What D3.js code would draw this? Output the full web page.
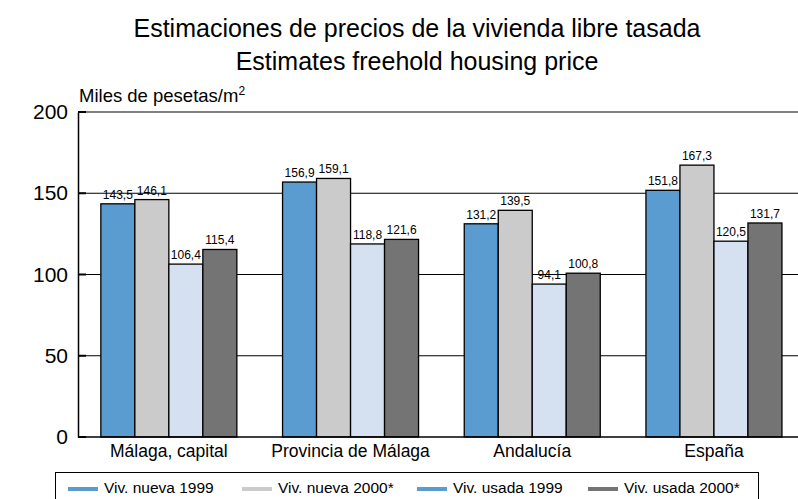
<!DOCTYPE html>
<html>
<head>
<meta charset="utf-8">
<script src="https://cdn.jsdelivr.net/npm/d3@7"></script>
<style>
  body { margin: 0; background: #fff; }
  text { font-family: "Liberation Sans", Arial, sans-serif; fill: #000; }
</style>
</head>
<body>
<div id="chart"></div>
<script>
const WIDTH = 798, HEIGHT = 499;
const MARGIN = { TOP: 112, LEFT: 78, BOTTOM: 62 };

const categories = ["Málaga, capital", "Provincia de Málaga", "Andalucía", "España"];
const series = ["Viv. nueva 1999", "Viv. nueva 2000*", "Viv. usada 1999", "Viv. usada 2000*"];
const nueva1999 = [143.5, 156.9, 131.2, 151.8];
const nueva2000 = [146.1, 159.1, 139.5, 167.3];
const usada1999 = [106.4, 118.8, 94.1, 120.5];
const usada2000 = [115.4, 121.6, 100.8, 131.7];
const yTicks = [0, 50, 100, 150, 200];

const barColors = ["#5a9bd0", "#cbcbcb", "#d5e0f0", "#747474"];
// the legend reuses the blue for "Viv. usada 1999", as in the original
const legendColors = ["#5a9bd0", "#cbcbcb", "#5a9bd0", "#747474"];

const values = [nueva1999, nueva2000, usada1999, usada2000];
const data = categories.map((c, i) => ({
    category: c,
    vals: series.map((s, j) => ({ key: s, idx: j, value: values[j][i] }))
}));

const svg = d3.select("#chart").append("svg")
    .attr("width", WIDTH)
    .attr("height", HEIGHT);

const y0 = 437, y1 = 112;

const xScale = d3.scaleBand()
    .domain(categories)
    .range([MARGIN.LEFT, MARGIN.LEFT + 4 * 181.7])
    .padding(0);

const inner = d3.scaleBand()
    .domain(series)
    .range([0, 136])
    .padding(0);

const yScale = d3.scaleLinear()
    .domain([0, 200])
    .range([y0, y1]);

// Title
svg.append("text")
    .attr("x", 417).attr("y", 37)
    .attr("text-anchor", "middle")
    .style("font-size", "25px")
    .text("Estimaciones de precios de la vivienda libre tasada");
svg.append("text")
    .attr("x", 417).attr("y", 70)
    .attr("text-anchor", "middle")
    .style("font-size", "25px")
    .text("Estimates freehold housing price");

// Units label
const unit = svg.append("text")
    .attr("x", 79).attr("y", 102)
    .style("font-size", "18.5px")
    .text("Miles de pesetas/m");
unit.append("tspan")
    .attr("dy", -7)
    .style("font-size", "12px")
    .text("2");

// Gridlines
svg.append("g")
    .selectAll("line")
    .data(yTicks.filter(d => d > 0))
    .join("line")
    .attr("x1", MARGIN.LEFT).attr("x2", WIDTH)
    .attr("y1", d => yScale(d)).attr("y2", d => yScale(d))
    .attr("stroke", "#000")
    .attr("stroke-width", 1.2);

// Y axis
const yAxis = svg.append("g")
    .attr("transform", `translate(${MARGIN.LEFT},0)`)
    .call(d3.axisLeft(yScale).tickValues(yTicks).tickSize(0).tickPadding(10));
yAxis.select(".domain").attr("stroke", "#000").attr("stroke-width", 1.5);
yAxis.selectAll("text")
    .style("font-size", "21px")
    .style("font-family", "'Liberation Sans', Arial, sans-serif");

// inner short ticks
svg.append("g")
    .selectAll("line")
    .data(yTicks)
    .join("line")
    .attr("x1", MARGIN.LEFT).attr("x2", MARGIN.LEFT + 8)
    .attr("y1", d => yScale(d)).attr("y2", d => yScale(d))
    .attr("stroke", "#000")
    .attr("stroke-width", 2);

// Bars
const groups = svg.append("g")
    .selectAll("g")
    .data(data)
    .join("g")
    .attr("transform", d => `translate(${xScale(d.category) + (xScale.bandwidth() - 136) / 2},0)`);

groups.selectAll("rect")
    .data(d => d.vals)
    .join("rect")
    .attr("x", d => inner(d.key))
    .attr("y", d => yScale(d.value))
    .attr("width", inner.bandwidth())
    .attr("height", d => y0 - yScale(d.value))
    .attr("fill", d => barColors[d.idx])
    .attr("stroke", "#000")
    .attr("stroke-width", 1.3);

groups.selectAll("text")
    .data(d => d.vals)
    .join("text")
    .attr("x", d => inner(d.key) + inner.bandwidth() / 2)
    .attr("y", d => yScale(d.value) - 5)
    .attr("text-anchor", "middle")
    .style("font-size", "12px")
    .text(d => d3.format(".1f")(d.value).replace(".", ","));

// X axis
const xAxis = svg.append("g")
    .attr("transform", `translate(0,${y0})`)
    .call(d3.axisBottom(xScale).tickSize(0).tickPadding(8));
xAxis.select(".domain").remove();
xAxis.selectAll("text")
    .style("font-size", "17.5px")
    .style("font-family", "'Liberation Sans', Arial, sans-serif");
svg.append("line")
    .attr("x1", MARGIN.LEFT).attr("x2", WIDTH)
    .attr("y1", y0).attr("y2", y0)
    .attr("stroke", "#000").attr("stroke-width", 1.5);

// Legend
const legendX = [68, 242, 417, 588];
svg.append("rect")
    .attr("x", 55.5).attr("y", 472.5)
    .attr("width", 703).attr("height", 40)
    .attr("fill", "none")
    .attr("stroke", "#000")
    .attr("stroke-width", 1);

const legend = svg.append("g")
    .selectAll("g")
    .data(series)
    .join("g")
    .attr("transform", (d, i) => `translate(${legendX[i]},489)`);
legend.append("line")
    .attr("x1", 0).attr("x2", 30)
    .attr("stroke", (d, i) => legendColors[i])
    .attr("stroke-width", 4);
legend.append("text")
    .attr("x", 36).attr("y", 4)
    .style("font-size", "15.5px")
    .text(d => d);
</script>
</body>
</html>
